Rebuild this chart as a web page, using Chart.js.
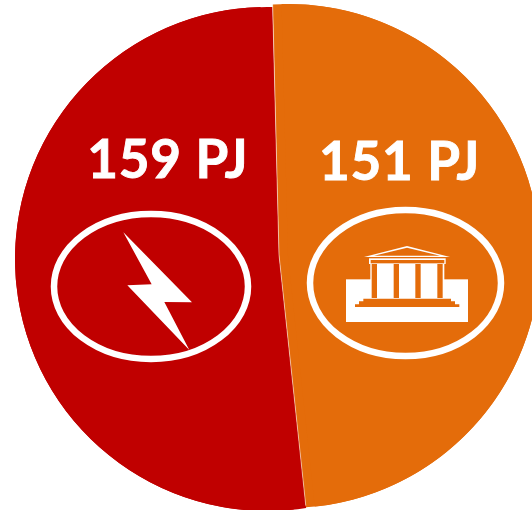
<!DOCTYPE html>
<html>
<head>
<meta charset="utf-8">
<style>
  html, body { margin: 0; padding: 0; background: #fff; overflow: hidden; }
  canvas { display: block; }
</style>
</head>
<body>
<canvas id="chart" width="532" height="510"></canvas>
<script src="https://cdn.jsdelivr.net/npm/chart.js@4/dist/chart.umd.min.js"></script>
<script>
const categories = ["Electricity", "Buildings"];
const values = [159, 151];
const unit = "PJ";
const colors = ["#C00000", "#E46C0A"];

// the two slices sit apart, each moved off the centre of the pie
const shifts = [
    { x: -12, y: 4 },
    { x: 9, y: 1 },
];

// where the label of each slice goes
const labelSpots = [
    { x: 167.8, y: 177.5 },
    { x: 399.5, y: 180.2 },
];

function path(ctx, pts) {
    ctx.beginPath();
    pts.forEach((p, i) => (i ? ctx.lineTo(p[0], p[1]) : ctx.moveTo(p[0], p[1])));
    ctx.closePath();
}

function ring(ctx, x, y, rx, ry) {
    ctx.beginPath();
    ctx.ellipse(x, y, rx, ry, 0, 0, Math.PI * 2);
    ctx.lineWidth = 6.5;
    ctx.strokeStyle = "#fff";
    ctx.stroke();
}

function drawBolt(ctx) {
    ring(ctx, 151, 286.5, 97, 72.5);
    ctx.save();
    ctx.translate(45, 205);
    ctx.scale(1 / 3, 1 / 3);
    ctx.fillStyle = "#fff";
    path(ctx, [[235, 82], [320, 238], [247, 241], [433, 435], [358, 291], [441, 292]]);
    ctx.fill();
    ctx.restore();
}

function drawTemple(ctx) {
    const orange = colors[1];
    ring(ctx, 405.5, 283, 95.5, 73);
    ctx.save();
    ctx.translate(300, 200);
    ctx.scale(1 / 3, 1 / 3);
    ctx.fillStyle = "#fff";
    // plinth and wall behind the columns
    ctx.fillRect(138, 238, 366, 128);
    ctx.fillRect(211, 190, 222, 110);
    // columns
    ctx.fillStyle = orange;
    [215, 281, 346, 412].forEach((x) => ctx.fillRect(x, 190, 16, 104));
    // steps
    path(ctx, [[190, 296], [453, 296], [453, 304], [465, 304], [465, 313], [478, 313], [478, 321],
        [165, 321], [165, 313], [177, 313], [177, 304], [190, 304]]);
    ctx.fill();
    // roof beam
    ctx.fillStyle = "#fff";
    ctx.fillRect(207, 175, 230, 17);
    ctx.fillStyle = orange;
    ctx.fillRect(212, 180, 221, 10);
    // pediment
    ctx.fillStyle = "#fff";
    path(ctx, [[321, 138], [450, 171], [192, 171]]);
    ctx.fill();
    ctx.fillStyle = orange;
    path(ctx, [[321, 143], [420, 167], [222, 167]]);
    ctx.fill();
    ctx.restore();
}

const pieceShift = {
    id: "pieceShift",
    afterDatasetsUpdate(chart) {
        chart.getDatasetMeta(0).data.forEach((arc, i) => {
            arc.x += shifts[i].x;
            arc.y += shifts[i].y;
        });
    },
};

// the seam between the slices stays at the pie centre, so fill each slice out to it
const seamFill = {
    id: "seamFill",
    beforeDatasetsDraw(chart) {
        const arcs = chart.getDatasetMeta(0).data;
        const ctx = chart.ctx;
        const cx = arcs[0].x - shifts[0].x;
        const cy = arcs[0].y - shifts[0].y;
        const r = arcs[0].outerRadius;
        const seam = (a) => ({ x: cx + r * Math.cos(a), y: cy + r * Math.sin(a) });
        const top = seam(arcs[1].startAngle);
        const bottom = seam(arcs[1].endAngle);
        const ends = [[bottom, top], [top, bottom]];
        ctx.save();
        arcs.forEach((arc, i) => {
            const [from, to] = ends[i];
            ctx.fillStyle = colors[i];
            ctx.beginPath();
            ctx.moveTo(cx, cy);
            ctx.arc(arc.x, arc.y, r,
                Math.atan2(from.y - arc.y, from.x - arc.x),
                Math.atan2(to.y - arc.y, to.x - arc.x));
            ctx.closePath();
            ctx.fill();
        });
        ctx.restore();
    },
};

const overlay = {
    id: "overlay",
    afterDatasetsDraw(chart) {
        const arcs = chart.getDatasetMeta(0).data;
        const ctx = chart.ctx;
        const cx = arcs[0].x - shifts[0].x;
        const cy = arcs[0].y - shifts[0].y;
        const r = arcs[0].outerRadius;
        ctx.save();
        // thin pale line along the seam
        ctx.strokeStyle = "rgba(255,255,255,0.5)";
        ctx.lineWidth = 1;
        ctx.beginPath();
        ctx.moveTo(cx + r * Math.cos(arcs[1].startAngle), cy + r * Math.sin(arcs[1].startAngle));
        ctx.lineTo(cx, cy);
        ctx.lineTo(cx + r * Math.cos(arcs[1].endAngle), cy + r * Math.sin(arcs[1].endAngle));
        ctx.stroke();
        drawBolt(ctx);
        drawTemple(ctx);
        ctx.fillStyle = "#fff";
        ctx.strokeStyle = "#fff";
        ctx.lineWidth = 0.9;
        ctx.font = "bold 53px Lato";
        ctx.letterSpacing = "0.8px";
        ctx.textAlign = "center";
        ctx.textBaseline = "alphabetic";
        values.forEach((v, i) => {
            ctx.fillText(v + " " + unit, labelSpots[i].x, labelSpots[i].y);
            ctx.strokeText(v + " " + unit, labelSpots[i].x, labelSpots[i].y);
        });
        ctx.restore();
    },
};

new Chart(document.getElementById("chart"), {
    type: "pie",
    plugins: [pieceShift, seamFill, overlay],
    data: {
        labels: categories,
        datasets: [{
            data: values,
            backgroundColor: colors,
            borderWidth: 0,
        }],
    },
    options: {
        responsive: false,
        animation: false,
        devicePixelRatio: 1,
        rotation: 173.9,
        layout: { padding: { left: 26, top: 3, bottom: 3, right: 0 } },
        plugins: { legend: { display: false }, tooltip: { enabled: false } },
    },
});
</script>
</body>
</html>
